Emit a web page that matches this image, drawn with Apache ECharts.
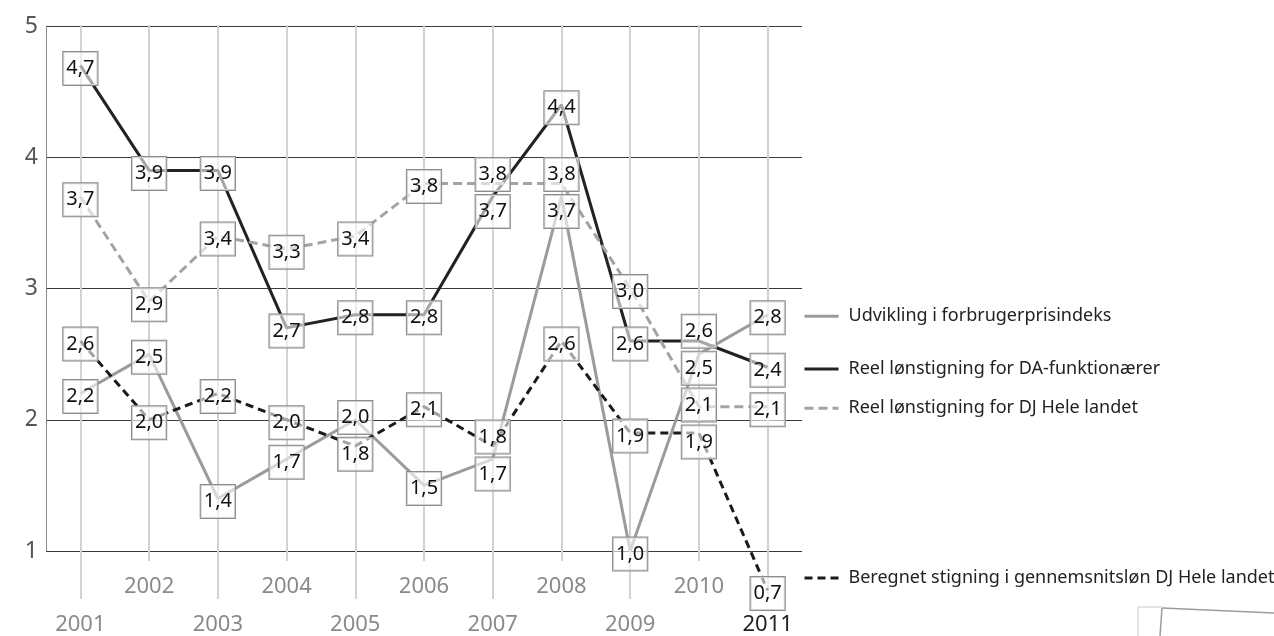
<!DOCTYPE html>
<html><head><meta charset="utf-8">
<script src="https://cdn.jsdelivr.net/npm/echarts@6/dist/echarts.min.js"></script>
<style>html,body{margin:0;padding:0;background:#fff}#c{width:1274px;height:636px}</style>
</head><body><div id="c"></div>
<script>
// ---- data ----
const years = ['2001','2002','2003','2004','2005','2006','2007','2008','2009','2010','2011'];
const cpi = [2.2, 2.5, 1.4, 1.7, 2.0, 1.5, 1.7, 3.7, 1.0, 2.5, 2.8];
const da  = [4.7, 3.9, 3.9, 2.7, 2.8, 2.8, 3.7, 4.4, 2.6, 2.6, 2.4];
const dj  = [3.7, 2.9, 3.4, 3.3, 3.4, 3.8, 3.8, 3.8, 3.0, 2.1, 2.1];
const avg = [2.6, 2.0, 2.2, 2.0, 1.8, 2.1, 1.8, 2.6, 1.9, 1.9, 0.7];
const seriesNames = [
  'Udvikling i forbrugerprisindeks',
  'Reel lønstigning for DA-funktionærer',
  'Reel lønstigning for DJ Hele landet',
  'Beregnet stigning i gennemsnitsløn DJ Hele landet'
];
const yMin = 1, yMax = 5, yInterval = 1;

// ---- layout ----
const W = 1274, H = 636;
const GT = 26, GB = 84, GL = 46, GR = 472;
const ppu = (H - GT - GB) / (yMax - yMin);
const FONT = 'Noto Sans';
const LEG_FS = 18;

const allSeries = [cpi, da, dj, avg];
const styles = [
  {color: '#9b9b9b', type: 'solid'},
  {color: '#222222', type: 'solid'},
  {color: '#a3a3a3', type: [9, 5]},
  {color: '#1a1a1a', type: [8, 5]}
];

// spread overlapping labels vertically within each column
const GAP = 37;
const offsets = allSeries.map(() => years.map(() => 0));
years.forEach((_, i) => {
  const items = allSeries.map((s, k) => ({k, y: (yMax - s[i]) * ppu})).sort((a, b) => a.y - b.y);
  let groups = items.map(it => ({members: [it], sum: it.y, start: it.y}));
  let changed = true;
  while (changed) {
    changed = false;
    for (let g = 0; g < groups.length - 1; g++) {
      const a = groups[g], b = groups[g + 1];
      if (a.start + a.members.length * GAP > b.start + 0.01) {
        const members = a.members.concat(b.members);
        const sum = a.sum + b.sum, n = members.length;
        groups.splice(g, 2, {members, sum, start: sum / n - (n - 1) * GAP / 2});
        changed = true; break;
      }
    }
  }
  groups.forEach(g => g.members.forEach((m, j) => { offsets[m.k][i] = g.start + j * GAP - m.y + 3; }));
});

const fmt = v => v.toFixed(1).replace('.', ',');

const series = allSeries.map((s, k) => ({
  name: seriesNames[k],
  type: 'line',
  clip: false,
  symbol: 'circle',
  symbolSize: 1,
  itemStyle: {color: 'rgba(0,0,0,0)', borderWidth: 0},
  lineStyle: {color: styles[k].color, width: 3, type: styles[k].type},
  emphasis: {disabled: true},
  z: 2,
  label: {
    show: true, position: 'inside',
    formatter: p => fmt(p.value),
    fontFamily: FONT, fontSize: 20, color: '#111',
    lineHeight: 24, padding: [5, 3, 4, 3],
    borderColor: '#8c8c8c', borderWidth: 1,
    backgroundColor: 'rgba(255,255,255,0.6)'
  },
  data: s.map((v, i) => ({value: v, label: {offset: [0, offsets[k][i]]}}))
}));

const legends = allSeries.map((s, k) => {
  let cy = GT + (yMax - s[s.length - 1]) * ppu;
  cy = Math.min(cy, 577);
  return {
    data: [seriesNames[k]], left: 803, top: cy - LEG_FS / 2 + 1, orient: 'vertical',
    padding: 0,
    itemWidth: 34, itemHeight: 14, selectedMode: false,
    itemStyle: {opacity: 0},
    lineStyle: {width: 3},
    textStyle: {fontFamily: FONT, fontSize: LEG_FS, color: '#222', padding: [0, 0, 0, 5]}
  };
});

const xBase = {
  type: 'category', data: years, boundaryGap: true, position: 'bottom', gridIndex: 0,
  axisLine: {show: false, onZero: false}, splitLine: {show: false}
};
const xLabel = {
  fontFamily: FONT, fontSize: 22, color: '#8a8a8a',
  formatter: v => v === '2011' ? '{b|' + v + '}' : v,
  rich: {b: {fontFamily: FONT, fontSize: 22, color: '#222'}}
};

const option = {
  backgroundColor: '#fff',
  animation: false,
  grid: {left: GL, right: GR, top: GT, bottom: GB, containLabel: false},
  legend: legends,
  xAxis: [
    Object.assign({}, xBase, {
      axisTick: {show: true, inside: true, length: H - GT - GB, alignWithLabel: true,
                 lineStyle: {color: '#d2d2d2', width: 2}},
      axisLabel: {show: false}
    }),
    Object.assign({}, xBase, {
      axisTick: {show: true, length: 48, alignWithLabel: true, interval: i => i % 2 === 0,
                 lineStyle: {color: '#d2d2d2', width: 2}},
      axisLabel: Object.assign({}, xLabel, {interval: i => i % 2 === 0, margin: 63})
    }),
    Object.assign({}, xBase, {
      axisTick: {show: true, length: 10, alignWithLabel: true, interval: i => i % 2 === 1,
                 lineStyle: {color: '#d2d2d2', width: 2}},
      axisLabel: Object.assign({}, xLabel, {interval: i => i % 2 === 1, margin: 25})
    })
  ],
  yAxis: {
    type: 'value', min: yMin, max: yMax, interval: yInterval,
    axisLine: {show: true, lineStyle: {color: '#8a8a8a', width: 1}},
    axisTick: {show: false},
    axisLabel: {fontFamily: FONT, fontSize: 23, color: '#555', margin: 8},
    splitLine: {show: true, lineStyle: {color: '#3a3a3a', width: 1}}
  },
  graphic: [
    {type: 'line', shape: {x1: 1138, y1: 607, x2: 1162, y2: 607}, style: {stroke: '#dddddd', lineWidth: 1.5}},
    {type: 'line', shape: {x1: 1138, y1: 607, x2: 1138, y2: 636}, style: {stroke: '#dddddd', lineWidth: 1.5}},
    {type: 'line', shape: {x1: 1162, y1: 608, x2: 1274, y2: 613}, style: {stroke: '#9c9c9c', lineWidth: 1.5}},
    {type: 'line', shape: {x1: 1162, y1: 608, x2: 1160, y2: 636}, style: {stroke: '#9c9c9c', lineWidth: 1.5}}
  ],
  series
};

const chart = echarts.init(document.getElementById('c'), null, {renderer: 'canvas'});
chart.setOption(option);
</script>
</body></html>
